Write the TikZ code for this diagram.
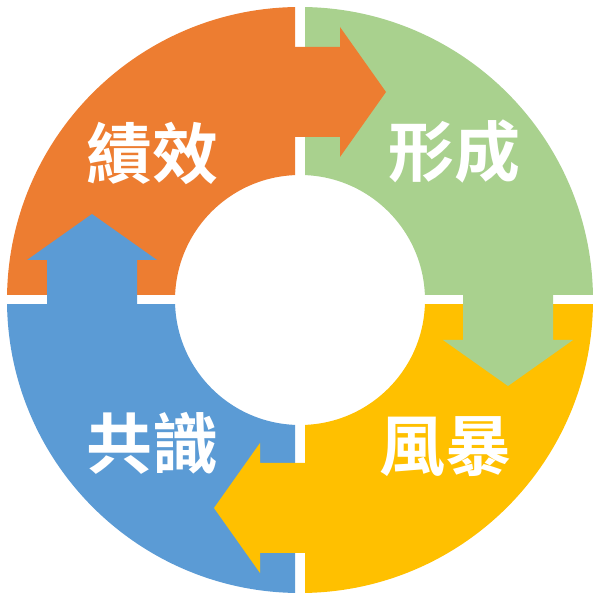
\documentclass[tikz,border=0pt]{standalone}
\usepackage{fontspec}
\newfontfamily\cjk{Noto Sans CJK TC}[BoldFont={Noto Sans CJK TC Bold}]
\definecolor{cOrange}{HTML}{ED7D31}
\definecolor{cGreen}{HTML}{A9D18E}
\definecolor{cYellow}{HTML}{FFC000}
\definecolor{cBlue}{HTML}{5B9BD5}
\newcommand\ringseg[2]{%
  \begin{scope}[rotate around={#1:(300,300)}]
    \begin{scope}
      \clip (0,305) rectangle (295,600);
      \fill[#2, even odd rule] (300,300) circle (293) (300,300) circle (125);
    \end{scope}
  \end{scope}}
\newcommand\ringarrow[2]{%
  \begin{scope}[rotate around={#1:(300,300)}]
    \fill[#2] (270,463) -- (340,463) -- (340,443) -- (386,508) -- (340,573) -- (340,553) -- (270,553) -- cycle;
  \end{scope}}
\tikzset{lbl/.style={text=white, font=\cjk\bfseries\fontsize{66}{70}\selectfont, inner sep=0pt}}
\begin{document}
\begin{tikzpicture}[x=1pt,y=1pt]
\useasboundingbox (0,0) rectangle (600,600);
\fill[white] (0,0) rectangle (600,600);
\ringseg{0}{cOrange}
\ringseg{-90}{cGreen}
\ringseg{-180}{cYellow}
\ringseg{-270}{cBlue}
\ringarrow{0}{cOrange}
\ringarrow{-90}{cGreen}
\ringarrow{-180}{cYellow}
\ringarrow{-270}{cBlue}
\node[lbl] (t1) at (152,447) {績效};
\node[lbl] (t2) at (454,448) {形成};
\node[lbl] (t3) at (445,153) {風暴};
\node[lbl] (t4) at (152,157) {共識};
\end{tikzpicture}
\end{document}
